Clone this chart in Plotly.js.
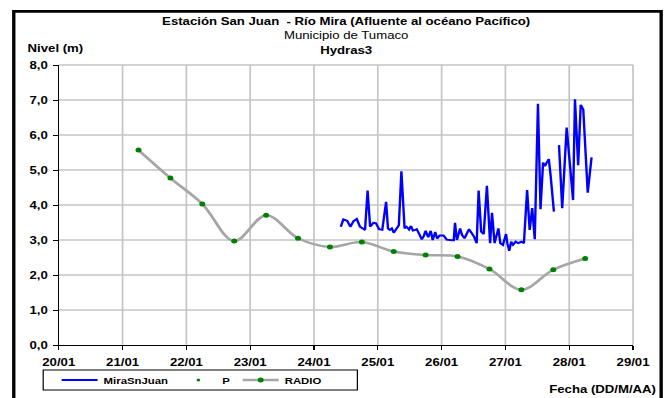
<!DOCTYPE html>
<html><head><meta charset="utf-8">
<script src="https://cdn.plot.ly/plotly-3.0.1.min.js"></script>
<style>
html,body{margin:0;padding:0;background:#fff;overflow:hidden;}
#chart{width:558px;height:398px;}
.js-plotly-plot .plotly .gridlayer .crisp{shape-rendering:geometricPrecision !important;}
</style></head><body><div id="chart"></div>
<script>
// ---- data ----
const dayTicks = [20,21,22,23,24,25,26,27,28,29];
const dayLabels = ['20/01','21/01','22/01','23/01','24/01','25/01','26/01','27/01','28/01','29/01'];
const levelTicks = [0,1,2,3,4,5,6,7,8];
const levelLabels = ['0,0','1,0','2,0','3,0','4,0','5,0','6,0','7,0','8,0'];

const miraX = [24.42,24.46,24.52,24.57,24.62,24.67,24.72,24.77,24.80,24.84,
  24.88,24.93,24.97,25.02,25.07,25.13,25.16,25.19,25.22,25.25,
  25.30,25.33,25.37,25.42,25.45,25.49,25.52,25.55,25.59,25.61,
  25.65,25.69,25.72,25.75,25.79,25.83,25.86,25.90,25.93,25.97,
  26.03,26.08,26.16,26.19,26.21,26.24,26.29,26.32,26.36,26.39,
  26.43,26.47,26.51,26.55,26.58,26.62,26.66,26.71,26.76,26.79,
  26.83,26.89,26.92,26.96,27.01,27.03,27.06,27.09,27.12,27.16,
  27.20,27.25,27.29,27.34,27.38,27.42,27.46,27.51,27.55,27.59,
  27.62,27.64,27.68,27.71,27.76,27.80,
  27.84,27.89,27.96,28.06,28.09,28.14,28.18,28.22,28.29,28.35];
const miraY = [3.38,3.59,3.55,3.38,3.54,3.60,3.38,3.31,3.29,4.41,
  3.38,3.49,3.48,3.31,3.29,4.09,3.33,3.29,3.33,3.21,
  3.33,3.42,4.96,3.33,3.38,3.30,3.40,3.27,3.29,3.31,
  3.17,3.02,3.11,3.26,3.08,3.26,3.00,3.23,3.04,3.13,
  3.13,3.01,2.99,2.99,3.49,3.00,3.33,3.14,3.05,3.17,
  3.31,3.20,3.09,2.91,4.41,3.24,3.17,4.55,2.91,3.78,
  2.91,3.33,2.91,2.86,3.17,2.91,2.69,2.95,2.86,2.95,
  2.91,2.95,2.91,4.43,3.29,3.91,3.02,6.89,3.88,5.21,
  5.11,5.19,5.31,4.81,3.81,null,
  5.71,3.91,6.21,4.14,7.02,5.14,6.86,6.73,4.35,5.36];

const radioX = [21.25,21.75,22.25,22.75,23.25,23.75,24.25,24.75,25.25,25.75,26.25,26.75,27.25,27.75,28.25];
const radioY = [5.57,4.77,4.03,2.97,3.71,3.05,2.80,2.94,2.67,2.57,2.53,2.17,1.58,2.15,2.47];

const titleLines = ['Estación San Juan  - Río Mira (Afluente al océano Pacífico)','Municipio de Tumaco','Hydras3'];
const yTitle = 'Nivel (m)';
const xTitle = 'Fecha (DD/M/AA)';

// ---- chart ----
const FONT = 'Arial, "Liberation Sans", sans-serif';
const BASE_W = 558, OUT_W = 669, H = 398;
const traces = [
  {name:'MiraSnJuan', x:miraX, y:miraY, type:'scatter', mode:'lines', connectgaps:false,
   line:{color:'#0000ff', width:2}},
  {name:'P', x:radioX, y:radioY, type:'scatter', mode:'markers',
   marker:{color:'#008000', size:3}},
  {name:'RADIO', x:radioX, y:radioY, type:'scatter', mode:'lines+markers',
   line:{color:'#a6a6a6', width:2.5, shape:'spline', smoothing:1},
   marker:{color:'#008000', size:5}}
];
const axisCommon = {
  showgrid:true, gridcolor:'#c4c4c4', zeroline:false,
  showline:true, linecolor:'#000', linewidth:1,
  ticks:'outside', ticklen:4, tickwidth:1, tickcolor:'#000',
  tickfont:{family:FONT, size:11, color:'#000', weight:'bold'}, fixedrange:true
};
const layout = {
  width:BASE_W, height:H, autosize:false,
  margin:{l:48.6, r:29.8, t:65, b:53, pad:0, autoexpand:false},
  paper_bgcolor:'#fff', plot_bgcolor:'#fff',
  font:{family:FONT, size:11, color:'#000'},
  showlegend:true,
  xaxis:Object.assign({}, axisCommon, {range:[20,29], gridwidth:1.4, tickmode:'array', tickvals:dayTicks, ticktext:dayLabels, ticklabelstandoff:3}),
  yaxis:Object.assign({}, axisCommon, {range:[0,8], gridwidth:1.3, tickmode:'array', tickvals:levelTicks, ticktext:levelLabels, ticklabelstandoff:2}),
  legend:{orientation:'h', x:-0.0054, xanchor:'left', y:-0.125, yanchor:'middle',
    bgcolor:'rgba(0,0,0,0)', borderwidth:0, traceorder:'normal',
    font:{family:FONT, size:9.5, color:'#000', weight:'bold'}},
  shapes:[
    {type:'line', xref:'paper', yref:'paper', x0:0, x1:1, y0:1, y1:1, line:{color:'#c4c4c4', width:1.3}, layer:'below'},
    {type:'line', xref:'paper', yref:'paper', x0:1, x1:1, y0:0, y1:1, line:{color:'#c4c4c4', width:1.4}, layer:'below'},
    {type:'rect', xref:'paper', yref:'paper', x0:-0.0271, x1:0.52, y0:-0.1607, y1:-0.0893, line:{color:'#000', width:1}, fillcolor:'rgba(0,0,0,0)'},
    {type:'rect', xref:'paper', yref:'paper', x0:-0.0783, x1:1.049, y0:-0.2, y1:1.1918, line:{color:'#000', width:2.8}, fillcolor:'rgba(0,0,0,0)'}
  ],
  annotations:[
    {text:'<b>'+titleLines[0]+'</b><br>'+titleLines[1]+'<br><b>'+titleLines[2]+'</b>', xref:'paper', yref:'paper', x:0.5, y:1.1071, xanchor:'center', yanchor:'middle', align:'center', showarrow:false, font:{size:11}},
    {text:'<b>'+yTitle+'</b>', xref:'paper', yref:'paper', x:-0.0591, y:1.0618, xanchor:'left', yanchor:'middle', showarrow:false, font:{size:11}},
    {text:'<b>'+xTitle+'</b>', xref:'paper', yref:'paper', x:1.045, y:-0.157, xanchor:'right', yanchor:'middle', showarrow:false, font:{size:11}}
  ]
};
Plotly.newPlot('chart', traces, layout, {staticPlot:true, displayModeBar:false}).then(function(gd){
  // stretch the vector drawing horizontally (the reference is a horizontally stretched chart)
  gd.style.width = OUT_W + 'px';
  gd.querySelectorAll('.svg-container').forEach(function(c){ c.style.width = OUT_W + 'px'; });
  gd.querySelectorAll('svg.main-svg').forEach(function(svg){
    svg.setAttribute('viewBox', '0 0 ' + BASE_W + ' ' + H);
    svg.setAttribute('preserveAspectRatio', 'none');
    svg.setAttribute('width', OUT_W);
    svg.style.width = OUT_W + 'px';
  });
});
</script></body></html>
